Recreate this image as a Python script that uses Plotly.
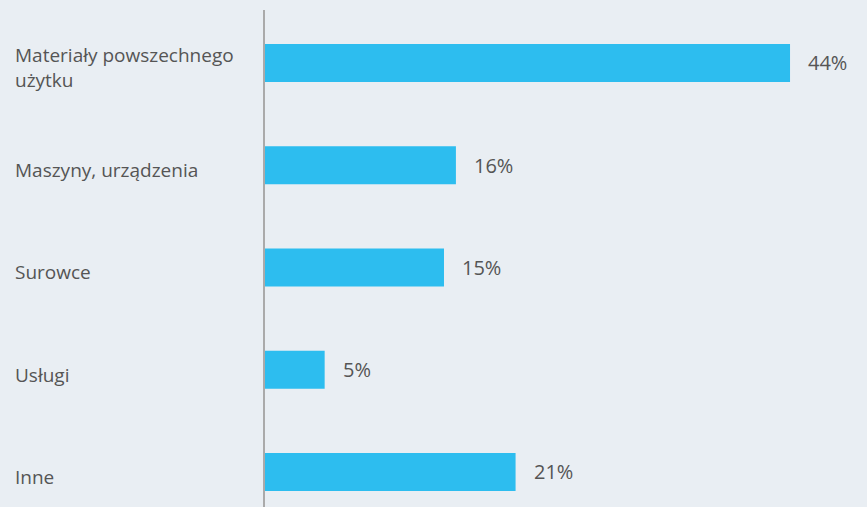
import plotly.graph_objects as go

categories = ["Materiały powszechnego<br>użytku", "Maszyny, urządzenia", "Surowce", "Usługi", "Inne"]
shares = [44, 16, 15, 5, 21]
value_labels = ["44%", "16%", "15%", "5%", "21%"]

BG = "#E9EEF3"
BAR = "#2DBDEF"
TEXT = "#555555"
FONT = "Open Sans"

fig = go.Figure()
fig.add_trace(go.Bar(
    x=shares,
    y=list(range(len(categories))),
    orientation="h",
    marker=dict(color=BAR, line=dict(width=0)),
    width=0.372,
    hoverinfo="skip",
))

annotations = []
# category names, left-aligned at the page edge
for i, name in enumerate(categories):
    annotations.append(dict(
        x=0, xref="paper", y=i, yref="y",
        text=name, showarrow=False,
        xanchor="left", yanchor="middle", align="left",
        xshift=-252, yshift=-5,
        font=dict(family=FONT, size=19, color=TEXT),
    ))
# value labels just past each bar's end
for i, (v, lab) in enumerate(zip(shares, value_labels)):
    annotations.append(dict(
        x=v, xref="x", y=i, yref="y",
        text=lab, showarrow=False,
        xanchor="left", yanchor="middle",
        xshift=16,
        font=dict(family=FONT, size=20, color=TEXT),
    ))

fig.update_layout(
    width=867, height=507,
    margin=dict(l=265, r=0, t=10, b=0),
    paper_bgcolor=BG, plot_bgcolor=BG,
    showlegend=False,
    annotations=annotations,
    xaxis=dict(range=[0, 50.45], showgrid=False, zeroline=False,
               showticklabels=False, showline=False, fixedrange=True),
    yaxis=dict(range=[4.343, -0.518], showgrid=False, zeroline=False,
               showticklabels=False, ticks="", showline=True,
               linecolor="#AAAAAA", linewidth=2, fixedrange=True),
)

fig.write_html("out.html")
